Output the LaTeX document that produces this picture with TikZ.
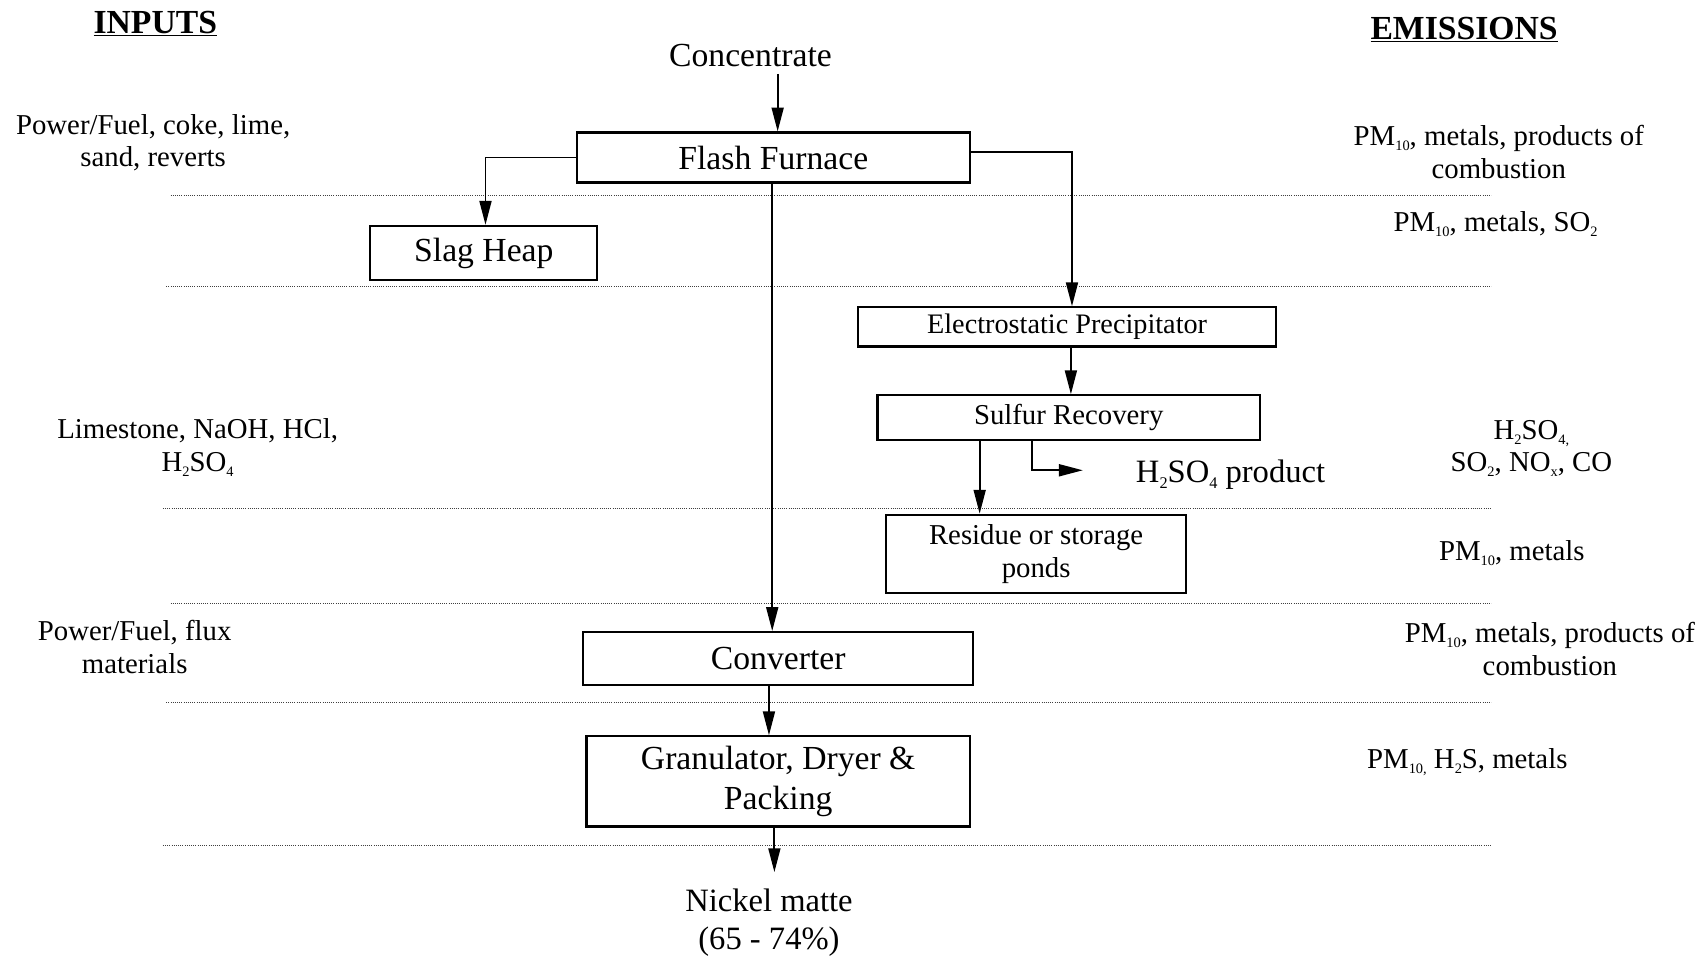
\documentclass[tikz,border=0pt]{standalone}
\usepackage{fontspec}
\setmainfont{Liberation Serif}
\usetikzlibrary{arrows.meta}
% small, lowered chemical subscripts scaled from the current size
\makeatletter
\newdimen\chsubdim
\newcommand\chsub[1]{\chsubdim=\f@size pt\chsubdim=0.5\chsubdim
  \raisebox{-0.18em}{\fontsize{\strip@pt\chsubdim}{0}\selectfont #1}}
\makeatother
\begin{document}
\begin{tikzpicture}[x=1pt,y=-1pt,
  box/.style={draw,line width=2pt,inner sep=0pt},
  big/.style={font=\fontsize{31}{36}\selectfont,align=center,inner sep=0pt},
  small/.style={font=\fontsize{26.5}{30}\selectfont,align=center,inner sep=0pt},
  head/.style={font=\fontsize{31}{34}\selectfont\bfseries,inner sep=0pt},
  arr/.style={line width=1.8pt,-{Triangle[length=22pt,width=11pt]}},
  sep/.style={line width=0.8pt,black!75,dash pattern=on 0.8pt off 1.2pt}]
\useasboundingbox (0,0) rectangle (1568,883);

% column headings
\node[head] (hin) at (143,22) {\underline{INPUTS}};
\node[head] (hem) at (1348,27) {\underline{EMISSIONS}};

% separators between the process stages
\draw[sep] (157,180) -- (1373,180);
\draw[sep] (153,264) -- (1373,264);
\draw[sep] (150,468) -- (1373,468);
\draw[sep] (157,556) -- (1373,556);
\draw[sep] (153,647) -- (1373,647);
\draw[sep] (150,778) -- (1373,778);

% process units
\node[big] (conc) at (691,51) {Concentrate};
\node[box,big,minimum width=362pt,minimum height=46pt] (ff) at (712,145) {Flash Furnace};
\node[box,big,minimum width=209pt,minimum height=50pt] (slag) at (445.5,233) {Slag Heap};
\node[box,font=\fontsize{26}{30}\selectfont,minimum width=385pt,minimum height=36pt] (esp) at (982.5,301) {Electrostatic Precipitator};
\node[box,small,minimum width=352pt,minimum height=41pt] (sr) at (984,384.5) {Sulfur Recovery};
\node[box,small,minimum width=276pt,minimum height=72pt] (res) at (954,510) {Residue or storage\\ponds};
\node[font=\fontsize{30}{36}\selectfont,inner sep=0pt] (acid) at (1133,437) {H\chsub{2}SO\chsub{4} product};
\node[box,big,minimum width=359pt,minimum height=49pt] (conv) at (716.5,606.5) {Converter};
\node[box,big,minimum width=353pt,minimum height=83pt] (gran) at (716.5,719.5) {Granulator, Dryer \&\\Packing};
\node[font=\fontsize{30}{35}\selectfont,align=center,inner sep=0pt] (nm) at (708,849.5) {Nickel matte\\(65 - 74\%)};

% free ends of arrows
\coordinate (concout) at (716,68);
\coordinate (acidin) at (997,433);
\coordinate (nmin) at (713,803);

% flows
\draw[arr] (concout) -- (concout |- ff.north);
\draw[arr] (ff.west) -| ([xshift=1.5pt]slag.north);
\draw[arr] ([yshift=5pt]ff.east) -| ([xshift=4.5pt]esp.north);
\draw[arr] ([xshift=3.5pt]esp.south) -- ([xshift=3.5pt]esp.south |- sr.north);
\draw[arr] ([xshift=-82pt]sr.south) -- ([xshift=-82pt]sr.south |- res.north);
\draw[arr] ([xshift=-34pt]sr.south) |- (acidin);
\draw[arr] ([xshift=-1pt]ff.south) -- ([xshift=-1pt]ff.south |- conv.north);
\draw[arr] ([xshift=-8.5pt]conv.south) -- ([xshift=-8.5pt]conv.south |- gran.north);
\draw[arr] (gran.south -| nmin) -- (nmin);

% inputs
\node[small] (in1) at (141,131.5) {Power/Fuel, coke, lime,\\sand, reverts};
\node[small] (in2) at (182,412) {Limestone, NaOH, HCl,\\H\chsub{2}SO\chsub{4}};
\node[small] (in3) at (124,595.5) {Power/Fuel, flux\\materials};

% emissions
\node[small] (em1) at (1380,140) {PM\chsub{10}, metals, products of\\combustion};
\node[small] (em2) at (1377,206) {PM\chsub{10}, metals, SO\chsub{2}};
\node[small] (em3) at (1410,413) {H\chsub{2}SO\chsub{4,}\\SO\chsub{2}, NO\chsub{x}, CO};
\node[small] (em4) at (1392,509) {PM\chsub{10}, metals};
\node[small] (em5) at (1427,597.5) {PM\chsub{10}, metals, products of\\combustion};
\node[small] (em6) at (1351,702) {PM\chsub{10,} H\chsub{2}S, metals};
\end{tikzpicture}
\end{document}
